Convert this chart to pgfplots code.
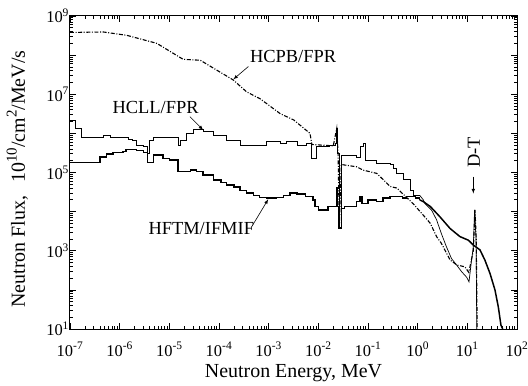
\documentclass[border=0pt]{standalone}
\usepackage{fontspec}
\setmainfont{Liberation Serif}
\usepackage{pgfplots}
\pgfplotsset{compat=1.18}
\newcommand{\bigsup}[1]{\raisebox{0.42em}{\fontsize{15}{15}\selectfont #1}}
\begin{document}
\begin{tikzpicture}
\begin{loglogaxis}[
  scale only axis, width=447bp, height=313bp,
  xmin=1e-7, xmax=1e2, ymin=1e1, ymax=1e9,
  axis line style={line width=1pt},
  tick align=inside, major tick length=6bp, minor tick length=3bp,
  every tick/.style={black, line width=0.7pt},
  xtick={1e-7,1e-6,1e-5,1e-4,1e-3,1e-2,1e-1,1e0,1e1,1e2},
  xticklabels={10\textsuperscript{-7},10\textsuperscript{-6},10\textsuperscript{-5},10\textsuperscript{-4},10\textsuperscript{-3},10\textsuperscript{-2},10\textsuperscript{-1},10\textsuperscript{0},10\textsuperscript{1},10\textsuperscript{2}},
  ytick={1e1,1e2,1e3,1e4,1e5,1e6,1e7,1e8,1e9},
  yticklabels={10\textsuperscript{1},{},10\textsuperscript{3},{},10\textsuperscript{5},{},10\textsuperscript{7},{},10\textsuperscript{9}},
  ticklabel style={font=\fontsize{16.5}{18}\selectfont},
  xticklabel style={anchor=base, yshift=-27bp},
  yticklabel style={xshift=2.5bp},
  label style={font=\fontsize{20}{24}\selectfont},
  xlabel={Neutron Energy, MeV},
  ylabel={Neutron Flux,\hspace{0.65em}10\bigsup{10}/cm\bigsup{2}/MeV/s},
  xlabel style={at={(axis description cs:0.5,0)}, anchor=base, yshift=-48bp},
  ylabel style={at={(axis description cs:-0.1007,0.479)}, anchor=base},
]
\coordinate (bl) at (rel axis cs:0,0);
\coordinate (tr) at (rel axis cs:1,1);
% HCPB/FPR
\addplot[black, line width=1.1pt, dash pattern=on 4pt off 1.6pt on 1pt off 1.6pt] coordinates {
(1e-7,3.8e8) (4.7e-7,3.9e8) (1.4e-6,3.2e8) (5.6e-6,2.0e8) (1.9e-5,7.8e7) (4.2e-5,7.4e7)
(1.95e-4,2.3e7) (3.6e-4,1.15e7) (6.8e-4,7.6e6) (1.7e-3,3.2e6) (3.2e-3,2.2e6) (6.8e-3,1.0e6)
(7.4e-3,5.2e5) (0.02,4.8e5) (0.0235,1.35e6) (0.025,3e5) (0.0265,4e3) (0.029,1.6e5)
(0.059,1.4e5) (0.08,1.15e5) (0.15,9.5e4) (0.28,4.4e4) (0.38,4e4) (0.51,2.8e4) (0.81,1.6e4)
(1.3,8.1e3) (1.8,5e3) (2.4,2.3e3) (3.0,1.55e3) (4.5,580) (6.2,430) (8.9,390) (10.7,280)
(13.2,1e3) (14.3,1.1e4) (15.1,2e3) (15.8,10)};
% HCLL/FPR steps
\addplot[black, line width=0.7pt, const plot] coordinates {
(1e-7,2.2e6) (1.26e-7,1.35e6) (1.72e-7,8.1e5) (4.6e-7,8.7e5) (6.4e-7,8.1e5) (1.5e-6,7.2e5)
(1.8e-6,6.8e5) (2.2e-6,5.0e5) (3.0e-6,4.6e5) (3.6e-6,3.1e5) (3.95e-6,6.8e5) (4.75e-6,7.8e5)
(1.2e-5,7.8e5) (1.51e-5,4.8e5) (1.7e-5,6.8e5) (2.24e-5,1.0e6) (3.0e-5,1.26e6) (4.8e-5,1.1e6)
(7.7e-5,9.1e5) (1.43e-4,6.8e5) (2.65e-4,5.0e5) (9.1e-4,6.2e5) (1.7e-3,5.5e5) (2.3e-3,6.2e5)
(3.7e-3,5.0e5) (5.8e-3,5.5e5) (7.3e-3,2.3e5) (9.3e-3,4.6e5) (0.017,5.0e5) (0.0216,5.5e5)
(0.0232,1.35e6) (0.0245,3.0e5) (0.026,4.0e3) (0.0285,2.8e5) (0.059,2.5e5) (0.069,4.6e5)
(0.08,5.5e5) (0.087,2.1e5) (0.15,1.7e5) (0.28,1.6e5) (0.32,1.26e5) (0.38,9.5e4)
(0.51,6.5e4) (0.7,3.5e4) (0.82,2.6e4) (1.1,2.6e4)};
% HCLL/FPR smooth
\addplot[black, line width=0.7pt] coordinates {
(1.1,2.6e4) (1.3,2.0e4) (1.4,1.6e4) (1.9,1.1e4) (2.4,6.2e3) (3.0,2.75e3) (3.8,1.26e3)
(4.8,630) (6.1,430) (7.7,290) (9.7,210) (10.8,160) (12.0,500) (13.2,1.26e3) (14.0,1.1e4)
(15.0,1.9e3) (15.5,10)};
% HFTM/IFMIF steps
\addplot[black, line width=1.5pt, const plot] coordinates {
(1e-7,1.8e5) (4.0e-7,2.5e5) (5.4e-7,2.95e5) (7.3e-7,3.2e5) (1.16e-6,3.4e5) (1.35e-6,3.9e5)
(2.2e-6,3.7e5) (3.0e-6,3.2e5) (3.6e-6,1.8e5) (4.75e-6,2.8e5) (7.5e-6,2.3e5) (1.0e-5,2.1e5)
(1.5e-5,1.05e5) (2.7e-5,1.15e5) (3.5e-5,1.05e5) (4.8e-5,8.7e4) (7.7e-5,6.5e4) (1.1e-4,5.6e4)
(1.43e-4,4.8e4) (2.0e-4,4.2e4) (2.65e-4,3.5e4) (3.6e-4,3.0e4) (4.9e-4,2.6e4) (6.5e-4,2.3e4)
(9.1e-4,2.2e4) (1.45e-3,2.3e4) (2.0e-3,2.6e4) (2.7e-3,3.0e4) (3.7e-3,2.8e4) (5.5e-3,2.4e4)
(7.8e-3,2.0e4) (8.6e-3,1.35e4) (1.0e-2,1.1e4) (1.55e-2,1.35e4) (0.0232,4e4) (0.0245,1.35e4)
(0.026,3.7e3) (0.029,1.2e4) (0.034,1.35e4) (0.059,1.8e4) (0.069,2.4e4) (0.075,1.6e4)
(0.1,2.0e4) (0.15,1.8e4) (0.2,2.2e4) (0.28,2.4e4) (0.5,2.2e4) (0.6,2.4e4) (0.9,2.2e4) (1.1,2.0e4)};
% HFTM/IFMIF smooth
\addplot[black, line width=1.5pt] coordinates {
(1.1,2.0e4) (1.3,1.8e4) (1.8,1.35e4) (2.8,7.4e3) (4.5,3.7e3) (7.1,2.3e3) (10.5,1.86e3)
(13.2,1.4e3) (18,1.05e3) (22.6,575) (28.6,263) (36,100) (42,37) (47.5,12.6) (51.5,10)};
% annotations
\node[font=\fontsize{18.5}{22}\selectfont] at (axis cs:3.1e-3,9e7) {HCPB/FPR};
\draw[-latex, line width=0.6pt] (axis cs:3.9e-4,5.1e7) -- (axis cs:1.94e-4,2.4e7);
\node[font=\fontsize{18.5}{22}\selectfont] at (axis cs:5.3e-6,4.7e6) {HCLL/FPR};
\draw[-latex, line width=0.6pt] (axis cs:2.6e-5,2.67e6) -- (axis cs:4.8e-5,1.22e6);
\node[font=\fontsize{18.5}{22}\selectfont] at (axis cs:4.4e-5,3.6e3) {HFTM/IFMIF};
\draw[-latex, line width=0.6pt] (axis cs:4.55e-4,4.1e3) -- (axis cs:9.8e-4,2.07e4);
\node[font=\fontsize{18.5}{22}\selectfont, rotate=90] at (axis cs:13.6,3.3e5) {D-T};
\draw[-latex, line width=0.6pt] (axis cs:13.2,7.8e4) -- (axis cs:13.2,2.9e4);
\end{loglogaxis}
\pgfresetboundingbox
\path[use as bounding box] ([shift={(-70bp,-57bp)}]bl) rectangle ([shift={(11bp,16bp)}]tr);
\end{tikzpicture}
\end{document}
